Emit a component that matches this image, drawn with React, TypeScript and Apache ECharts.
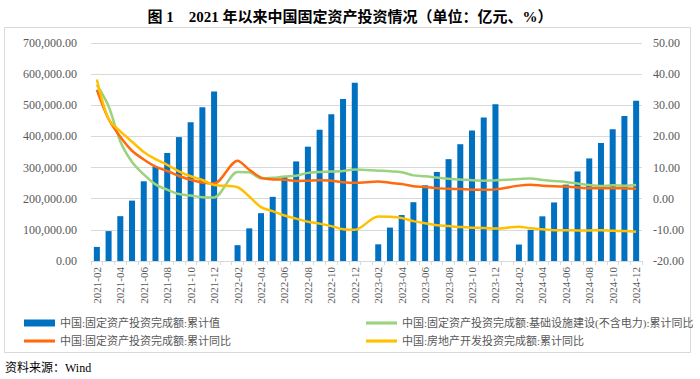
import React, { useEffect, useRef } from "react";
import * as echarts from "echarts";

const categories = [
  "2021-02", "2021-03", "2021-04", "2021-05", "2021-06", "2021-07", "2021-08", "2021-09", "2021-10", "2021-11", "2021-12",
  "2022-01", "2022-02", "2022-03", "2022-04", "2022-05", "2022-06", "2022-07", "2022-08", "2022-09", "2022-10", "2022-11", "2022-12",
  "2023-01", "2023-02", "2023-03", "2023-04", "2023-05", "2023-06", "2023-07", "2023-08", "2023-09", "2023-10", "2023-11", "2023-12",
  "2024-01", "2024-02", "2024-03", "2024-04", "2024-05", "2024-06", "2024-07", "2024-08", "2024-09", "2024-10", "2024-11", "2024-12",
];

// 中国:固定资产投资完成额:累计值 (亿元)
const faiCumulative = [
  45236, 95994, 143917, 193917, 255900, 302788, 346913, 397827, 445823, 494082, 544547,
  null, 50763, 104872, 153544, 205964, 271430, 319812, 367106, 421412, 471459, 520043, 572138,
  null, 53577, 107282, 147482, 188815, 243113, 285898, 327042, 375035, 419409, 460814, 503036,
  null, 52847, 100042, 143401, 188006, 245391, 287611, 329385, 378978, 423222, 465839, 514374,
];

// 中国:固定资产投资完成额:基础设施建设(不含电力):累计同比
const infraYoY = [
  36.6, 29.7, 18.4, 11.8, 7.8, 4.6, 2.9, 1.5, 1.0, 0.5, 0.4,
  null, 8.6, 8.5, 6.5, 6.7, 7.1, 7.4, 8.3, 8.6, 8.7, 8.9, 9.4,
  null, 9.0, 8.8, 8.5, 7.5, 7.2, 6.8, 6.4, 6.2, 5.9, 5.8, 5.9,
  null, 6.3, 6.5, 6.0, 5.7, 5.4, 4.9, 4.4, 4.1, 4.3, 4.2, 4.4,
];

// 中国:固定资产投资完成额:累计同比
const faiYoY = [
  35.0, 25.6, 19.9, 15.4, 12.6, 10.3, 8.9, 7.3, 6.1, 5.2, 4.9,
  null, 12.2, 9.3, 6.8, 6.2, 6.1, 5.7, 5.8, 5.9, 5.8, 5.3, 5.1,
  null, 5.5, 5.1, 4.7, 4.0, 3.8, 3.4, 3.2, 3.1, 2.9, 2.9, 3.0,
  null, 4.2, 4.5, 4.2, 4.0, 3.9, 3.6, 3.4, 3.4, 3.4, 3.3, 3.2,
];

// 中国:房地产开发投资完成额:累计同比
const realEstateYoY = [
  38.3, 25.6, 21.6, 18.3, 15.0, 12.7, 10.9, 8.8, 7.2, 6.0, 4.4,
  null, 3.7, 0.7, -2.7, -4.0, -5.4, -6.4, -7.4, -8.0, -8.8, -9.8, -10.0,
  null, -5.7, -5.8, -6.2, -7.2, -7.9, -8.5, -8.8, -9.1, -9.3, -9.4, -9.6,
  null, -9.0, -9.5, -9.8, -10.1, -10.1, -10.2, -10.2, -10.1, -10.3, -10.4, -10.6,
];

const seriesNames = [
  "中国:固定资产投资完成额:累计值",
  "中国:固定资产投资完成额:基础设施建设(不含电力):累计同比",
  "中国:固定资产投资完成额:累计同比",
  "中国:房地产开发投资完成额:累计同比",
];

const titleText = "图 1    2021 年以来中国固定资产投资情况（单位：亿元、%）";
const sourceText = "资料来源：Wind";

const SERIF = "'Liberation Serif', 'Times New Roman', 'Noto Sans CJK SC', serif";
const CJK = "'Liberation Serif', 'Noto Sans CJK SC', sans-serif";

const BLUE = "#0070C0";
const GREEN = "#9BD27E";
const ORANGE = "#FF6A0E";
const YELLOW = "#FFC000";
const LINE_ICON = "path://M0,0H30V3H0Z";

export default function App() {
  const ref = useRef<HTMLDivElement>(null);

  useEffect(() => {
    document.body.style.margin = "0";
    if (!ref.current) return;
    const chart = echarts.init(ref.current, null, { renderer: "svg" });
    const legendText = { fontSize: 11, color: "#595959", fontFamily: CJK, lineHeight: 12 };
    chart.setOption({
      animation: false,
      backgroundColor: "#ffffff",
      title: {
        text: titleText,
        left: "center",
        top: 4,
        textStyle: { fontSize: 15, fontWeight: "bold", color: "#000", fontFamily: SERIF },
      },
      graphic: [
        {
          type: "rect",
          shape: { x: 4.5, y: 27.5, width: 686, height: 325 },
          style: { fill: "none", stroke: "#D9D9D9", lineWidth: 1 },
          silent: true,
        },
        {
          type: "text",
          left: 5,
          top: 362,
          style: { text: sourceText, fontSize: 12, fill: "#000", fontFamily: CJK },
        },
      ],
      legend: [
        {
          orient: "vertical",
          left: 19,
          top: 312,
          itemWidth: 31,
          itemHeight: 7,
          itemGap: 6,
          textStyle: legendText,
          data: [
            { name: seriesNames[0], icon: "rect" },
            { name: seriesNames[2], icon: LINE_ICON },
          ],
        },
        {
          orient: "vertical",
          left: 361,
          top: 312,
          itemWidth: 31,
          itemHeight: 7,
          itemGap: 6,
          textStyle: legendText,
          data: [
            { name: seriesNames[1], icon: LINE_ICON },
            { name: seriesNames[3], icon: LINE_ICON },
          ],
        },
      ],
      grid: { left: 91, right: 58, top: 43, bottom: 118, containLabel: false },
      xAxis: {
        type: "category",
        data: categories,
        boundaryGap: true,
        axisLine: { lineStyle: { color: "#D9D9D9" } },
        axisTick: { show: true, interval: 0, length: 4, lineStyle: { color: "#D9D9D9" } },
        axisLabel: {
          interval: 1,
          rotate: 90,
          fontSize: 11,
          color: "#595959",
          fontFamily: SERIF,
          margin: 6,
        },
      },
      yAxis: [
        {
          type: "value",
          min: 0,
          max: 700000,
          interval: 100000,
          axisLine: { show: false },
          axisTick: { show: false },
          splitLine: { lineStyle: { color: "#D9D9D9" } },
          axisLabel: {
            fontSize: 12,
            color: "#595959",
            fontFamily: SERIF,
            margin: 14,
            formatter: (v: number) =>
              v.toLocaleString("en-US", { minimumFractionDigits: 2, maximumFractionDigits: 2 }),
          },
        },
        {
          type: "value",
          min: -20,
          max: 50,
          interval: 10,
          axisLine: { show: false },
          axisTick: { show: false },
          splitLine: { show: false },
          axisLabel: {
            fontSize: 12,
            color: "#595959",
            fontFamily: SERIF,
            margin: 11,
            formatter: (v: number) => v.toFixed(2),
          },
        },
      ],
      series: [
        {
          name: seriesNames[0],
          type: "bar",
          yAxisIndex: 0,
          data: faiCumulative,
          barWidth: 6,
          itemStyle: { color: BLUE },
          z: 1,
        },
        {
          name: seriesNames[1],
          type: "line",
          yAxisIndex: 1,
          data: infraYoY,
          connectNulls: true,
          smooth: 0.3,
          showSymbol: false,
          symbol: "none",
          lineStyle: { color: GREEN, width: 2.5 },
          itemStyle: { color: GREEN },
          z: 3,
        },
        {
          name: seriesNames[2],
          type: "line",
          yAxisIndex: 1,
          data: faiYoY,
          connectNulls: true,
          smooth: 0.3,
          showSymbol: false,
          symbol: "none",
          lineStyle: { color: ORANGE, width: 2.5 },
          itemStyle: { color: ORANGE },
          z: 4,
        },
        {
          name: seriesNames[3],
          type: "line",
          yAxisIndex: 1,
          data: realEstateYoY,
          connectNulls: true,
          smooth: 0.3,
          showSymbol: false,
          symbol: "none",
          lineStyle: { color: YELLOW, width: 2.5 },
          itemStyle: { color: YELLOW },
          z: 5,
        },
      ],
    });
    return () => chart.dispose();
  }, []);

  return <div ref={ref} style={{ width: 700, height: 379 }} />;
}
